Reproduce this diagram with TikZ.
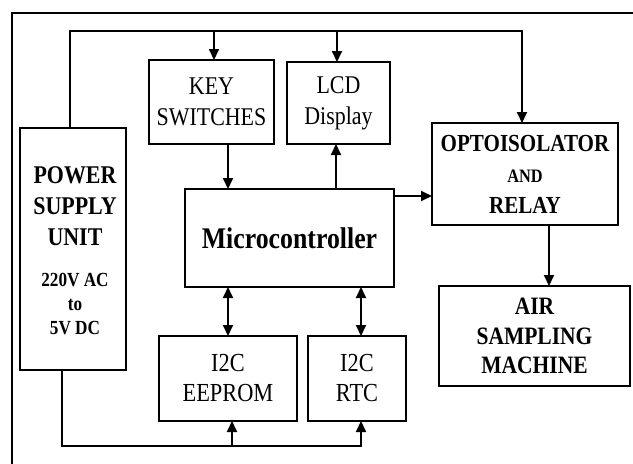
\documentclass[tikz,border=0pt]{standalone}
\usepackage{fontspec}
\setmainfont{Liberation Serif}[FakeStretch=0.86]
\usetikzlibrary{arrows.meta}
\begin{document}
\begin{tikzpicture}[x=1pt,y=-1pt,
 box/.style={draw,line width=1.2pt,inner sep=0pt,outer sep=0pt,align=center,font=\fontsize{25.5}{31}\selectfont},
 wire/.style={line width=2pt},
 arr/.style={wire,-{Triangle[length=11pt,width=10pt]}},
 darr/.style={wire,{Triangle[length=11pt,width=10pt]}-{Triangle[length=11pt,width=10pt]}}]
\useasboundingbox (0,0) rectangle (633,464);
\draw[line width=1.2pt] (12,470) -- (12,13) -- (640,13);
% boxes
\node[box,minimum width=106pt,minimum height=242pt] (psu) at (73,249) {};
\node[font=\bfseries\fontsize{25.5}{31}\selectfont,align=center,inner sep=0pt] (psut) at (75,206) {POWER\\SUPPLY\\UNIT};
\node[font=\bfseries\fontsize{20}{24}\selectfont,align=center,inner sep=0pt] (psub) at (75,304) {220V AC\\to\\5V DC};
\node[box,minimum width=125pt,minimum height=84pt] (keys) at (211.5,102) {KEY\\SWITCHES};
\node[box,minimum width=103pt,minimum height=82pt] (lcd) at (338.5,103) {LCD\\Display};
\node[box,minimum width=209pt,minimum height=98pt,font=\bfseries\fontsize{30}{36}\selectfont] (micro) at (289.5,238) {Microcontroller};
\node[box,minimum width=186pt,minimum height=102pt,font=\bfseries\fontsize{24.5}{31}\selectfont] (opto) at (525,174) {OPTOISOLATOR\\{\fontsize{19}{22}\selectfont AND}\\RELAY};
\node[box,minimum width=191pt,minimum height=100pt,font=\bfseries\fontsize{25}{29.5}\selectfont] (air) at (534.5,336) {AIR\\SAMPLING\\MACHINE};
\node[box,minimum width=138pt,minimum height=85pt,font=\fontsize{26}{30}\selectfont] (eep) at (228,378.5) {I2C\\EEPROM};
\node[box,minimum width=98pt,minimum height=85pt,font=\fontsize{26}{30}\selectfont] (rtc) at (357,378.5) {I2C\\RTC};
% top bus
\coordinate (tl) at (70,31);
\coordinate (tk) at (214,31);
\coordinate (tc) at (337,31);
\coordinate (tr) at (522,31);
\draw[arr] (tl |- psu.north) -- (tl) -- (tr) -- (tr |- opto.north);
\draw[arr] (tk) -- (tk |- keys.north);
\draw[arr] (tc) -- (tc |- lcd.north);
% internal links
\coordinate (xk) at (228,0);
\coordinate (xl) at (336,0);
\coordinate (ym) at (0,196);
\coordinate (xo) at (549,0);
\coordinate (xr) at (361,0);
\draw[arr] (xk |- keys.south) -- (xk |- micro.north);
\draw[arr] (xl |- micro.north) -- (xl |- lcd.south);
\draw[arr] (ym -| micro.east) -- (ym -| opto.west);
\draw[arr] (xo |- opto.south) -- (xo |- air.north);
\draw[darr] (xk |- micro.south) -- (xk |- eep.north);
\draw[darr] (xr |- micro.south) -- (xr |- rtc.north);
% bottom bus
\coordinate (bl) at (62,446);
\coordinate (be) at (232,446);
\coordinate (br) at (361,446);
\draw[arr] (bl |- psu.south) -- (bl) -- (br) -- (br |- rtc.south);
\draw[arr] (be) -- (be |- eep.south);
\end{tikzpicture}
\end{document}
